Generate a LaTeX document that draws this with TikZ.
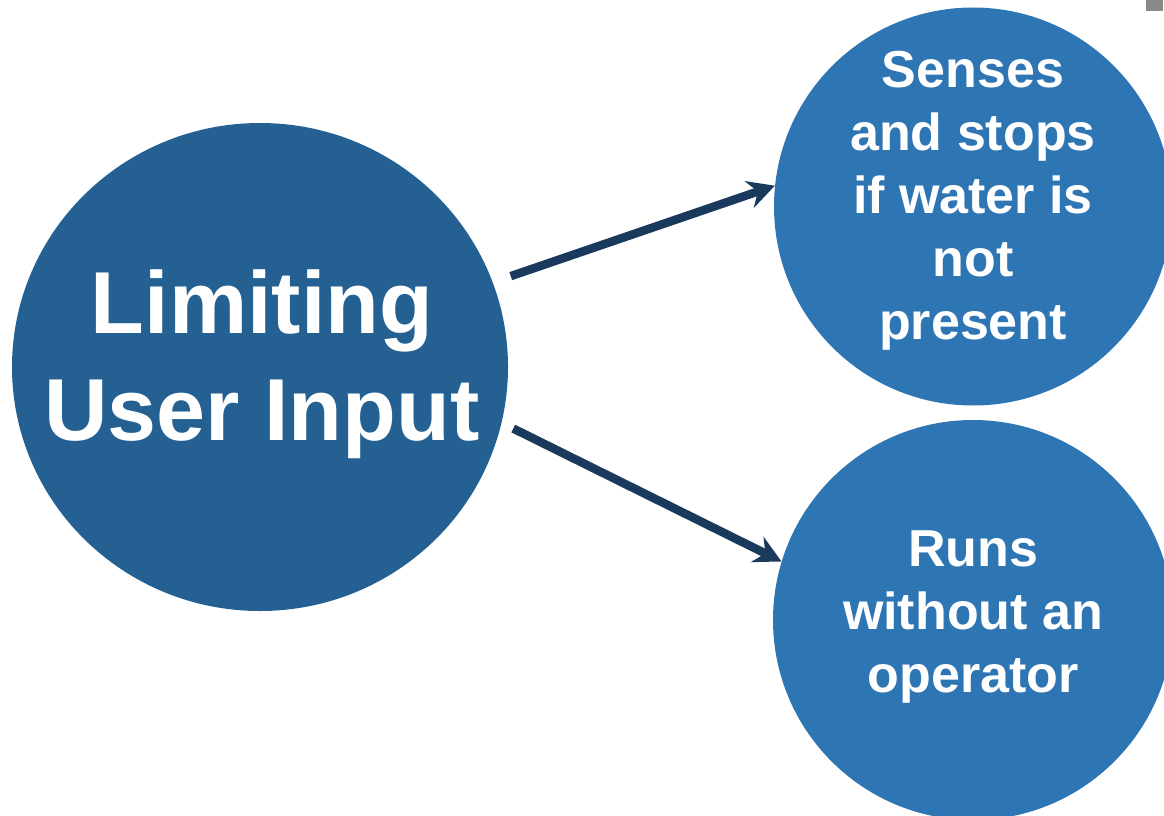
\documentclass[tikz,border=0pt]{standalone}
\usepackage{fontspec}
\setmainfont{Liberation Sans}
\usetikzlibrary{arrows.meta,shapes.geometric}
\definecolor{bigblue}{HTML}{246192}
\definecolor{smallblue}{HTML}{2E75B4}
\definecolor{arrownavy}{HTML}{193A5C}
\definecolor{markgray}{HTML}{8A8A8A}
\tikzset{
  bigcircle/.style={ellipse, fill=bigblue, minimum width=496pt, minimum height=488pt, inner sep=0pt},
  bigtext/.style={text=white, align=center, inner sep=0pt, font=\fontsize{88}{107}\selectfont\bfseries},
  smallcircle/.style={circle, fill=smallblue, minimum size=398pt, inner sep=0pt},
  smalltext/.style={text=white, align=center, inner sep=0pt, font=\fontsize{52}{63}\selectfont\bfseries},
  conn/.style={draw=arrownavy, line width=8.5pt, -{Stealth[length=27pt,width=28pt,inset=9pt]}}
}
\begin{document}
\begin{tikzpicture}[x=1pt,y=-1pt]
\useasboundingbox (0,0) rectangle (1164,816);
\clip (0,0) rectangle (1164,816);
\node[bigcircle] (big) at (260,367) {};
\node[bigtext] (bigtxt) at (262,364) {Limiting\\User Input};
\node[smallcircle] (top) at (973,206.5) {};
\node[smalltext] (toptxt) at (973,201) {Senses\\and stops\\if water is\\not\\present};
\node[smallcircle, minimum size=400pt] (bot) at (973,620) {};
\node[smalltext] (bottxt) at (973,617) {Runs\\without an\\operator};
\draw[conn, shorten <=19pt] (big.20) -- (top.174.4);
\draw[conn, shorten <=13pt] (big.-13.6) -- (bot.163);
\fill[markgray] (1146,0) rectangle (1163,11);
\end{tikzpicture}
\end{document}
